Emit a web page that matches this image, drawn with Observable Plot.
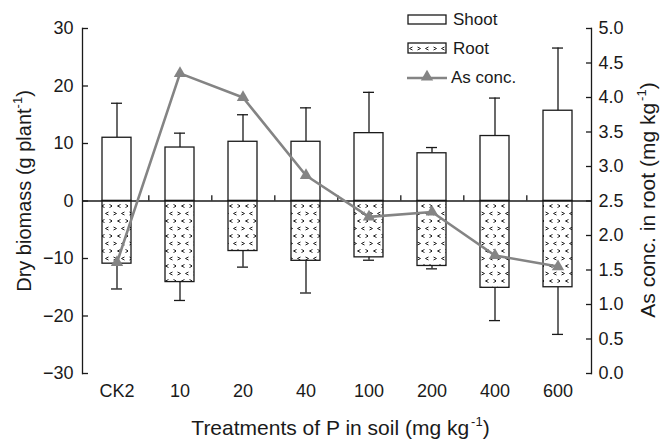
<!DOCTYPE html>
<html>
<head>
<meta charset="utf-8">
<script src="https://cdn.jsdelivr.net/npm/d3@7"></script>
<script src="https://cdn.jsdelivr.net/npm/@observablehq/plot@0.6"></script>
<style>
  html, body { margin: 0; padding: 0; background: #fff; }
  #chart { width: 666px; height: 441px; }
</style>
</head>
<body>
<div id="chart"></div>
<script>
// ---- data ----
const categories = ["CK2", "10", "20", "40", "100", "200", "400", "600"];
const shoot      = [11.0, 9.3, 10.3, 10.3, 11.8, 8.3, 11.3, 15.7];
const shootErr   = [6.0, 2.5, 4.7, 5.9, 7.1, 1.0, 6.6, 10.9];
const root       = [-10.9, -14.1, -8.7, -10.4, -9.8, -11.3, -15.1, -15.0];
const rootErr    = [4.4, 3.2, 2.8, 5.6, 0.5, 0.5, 5.7, 8.2];
const asConc     = [1.61, 4.35, 4.00, 2.87, 2.27, 2.34, 1.71, 1.55];
const leftTicks  = [-30, -20, -10, 0, 10, 20, 30];
const rightTicks = [0.0, 0.5, 1.0, 1.5, 2.0, 2.5, 3.0, 3.5, 4.0, 4.5, 5.0];

// ---- layout ----
const W = 666, H = 441;
const mL = 82, mR = 75, mT = 28, mB = 68;
const ink = "#1a1a1a";
const gray = "#848484";
const font = "'Liberation Sans', Arial, Helvetica, sans-serif";

// right axis (0..5) mapped onto left axis (-30..30)
const toLeft = v => (v - 2.5) * 12;
const toRight = y => y / 12 + 2.5;

const data = categories.map((c, i) => ({
  cat: c, shoot: shoot[i], shootErr: shootErr[i],
  root: root[i], rootErr: rootErr[i], as: asConc[i]
}));

const step = (W - mL - mR) / categories.length;

const plot = Plot.plot({
  width: W, height: H,
  marginLeft: mL, marginRight: mR, marginTop: mT, marginBottom: mB,
  style: { fontFamily: font, fontSize: "18px", color: ink, background: "#fff", overflow: "visible" },
  x: { domain: categories, paddingInner: 0.54, paddingOuter: 0.27, label: null },
  y: { domain: [-30, 30], label: null },
  marks: [
    // error bars shoot
    Plot.ruleX(data, { x: "cat", y1: "shoot", y2: d => d.shoot + d.shootErr, stroke: ink, strokeWidth: 1.3 }),
    Plot.tickY(data, { x: "cat", y: d => d.shoot + d.shootErr, stroke: ink, strokeWidth: 1.3, insetLeft: 9, insetRight: 9 }),
    // error bars root
    Plot.ruleX(data, { x: "cat", y1: "root", y2: d => d.root - d.rootErr, stroke: ink, strokeWidth: 1.3 }),
    Plot.tickY(data, { x: "cat", y: d => d.root - d.rootErr, stroke: ink, strokeWidth: 1.3, insetLeft: 9, insetRight: 9 }),
    // bars
    Plot.barY(data, { x: "cat", y1: 0, y2: "shoot", fill: "#fff", stroke: ink, strokeWidth: 1.3 }),
    Plot.barY(data, { x: "cat", y1: 0, y2: "root", fill: "url(#rootPattern)", stroke: ink, strokeWidth: 1.3 }),
    // zero line and category separators
    Plot.ruleY([0], { stroke: ink, strokeWidth: 1.3 }),
    Plot.ruleX(categories.slice(0, -1), { x: d => d, y1: 0, y2: 0.9, dx: step / 2, stroke: ink, strokeWidth: 1.3 }),
    // axis lines
    Plot.frame({ anchor: "left", stroke: ink, strokeWidth: 1.3 }),
    Plot.frame({ anchor: "right", stroke: ink, strokeWidth: 1.3 }),
    // left axis
    Plot.axisY({ ticks: leftTicks, anchor: "left", tickSize: 0, tickPadding: 9, label: null, fontSize: 18 }),
    Plot.axisY({ ticks: leftTicks, anchor: "left", tickSize: 6, dx: 6, tickFormat: () => "", label: null, stroke: ink, strokeWidth: 1.3 }),
    // right axis
    Plot.axisY({ ticks: rightTicks.map(toLeft), anchor: "right", tickSize: 0, tickPadding: 7, tickFormat: y => toRight(y).toFixed(1), label: null, fontSize: 18 }),
    Plot.axisY({ ticks: rightTicks.map(toLeft), anchor: "right", tickSize: 6, dx: -6, tickFormat: () => "", label: null, stroke: ink, strokeWidth: 1.3 }),
    // bottom axis labels
    Plot.axisX({ anchor: "bottom", tickSize: 0, tickPadding: 11, label: null, fontSize: 18 }),
    // As concentration line
    Plot.line(data, { x: "cat", y: d => toLeft(d.as), stroke: gray, strokeWidth: 2.6 }),
    Plot.dot(data, { x: "cat", y: d => toLeft(d.as), symbol: "triangle", r: 4.6, fill: gray, stroke: "none" })
  ]
});

document.getElementById("chart").appendChild(plot);

// ---- pattern for root bars ----
const svg = d3.select(plot);
const defs = svg.insert("defs", ":first-child");
const pat = defs.append("pattern")
  .attr("id", "rootPattern").attr("patternUnits", "userSpaceOnUse")
  .attr("width", 16).attr("height", 15);
pat.append("rect").attr("width", 16).attr("height", 15).attr("fill", "#fff");
const chev = (x, y, dir) => {
  const s = 1.5;
  const d = dir === ">"
    ? `M${x - s},${y - s}L${x + s},${y}L${x - s},${y + s}`
    : `M${x + s},${y - s}L${x - s},${y}L${x + s},${y + s}`;
  pat.append("path").attr("d", d).attr("fill", "none").attr("stroke", "#222").attr("stroke-width", 1);
};
chev(3, 3.5, ">"); chev(11, 3.5, "<");
chev(7, 11, "<"); chev(15, 11, ">");

// ---- axis titles ----
const bottomTitle = svg.append("text")
  .attr("x", (mL + W - mR) / 2 + 4).attr("y", 435)
  .attr("text-anchor", "middle")
  .attr("font-family", font).attr("font-size", 21).attr("fill", ink);
bottomTitle.append("tspan").text("Treatments of P in soil (mg kg");
bottomTitle.append("tspan").attr("font-size", 13).attr("dy", -9).attr("dx", 2).text("-1");
bottomTitle.append("tspan").attr("dy", 9).text(")");

const leftTitle = svg.append("text")
  .attr("transform", `translate(31,191) rotate(-90)`)
  .attr("text-anchor", "middle")
  .attr("font-family", font).attr("font-size", 20).attr("fill", ink);
leftTitle.append("tspan").text("Dry biomass (g plant");
leftTitle.append("tspan").attr("font-size", 13).attr("dy", -9).text("-1");
leftTitle.append("tspan").attr("dy", 9).text(")");

const rightTitle = svg.append("text")
  .attr("transform", `translate(655,200) rotate(-90)`)
  .attr("text-anchor", "middle")
  .attr("font-family", font).attr("font-size", 21).attr("fill", ink);
rightTitle.append("tspan").text("As conc. in root (mg kg");
rightTitle.append("tspan").attr("font-size", 13).attr("dy", -9).attr("dx", 2).text("-1");
rightTitle.append("tspan").attr("dy", 9).text(")");

// ---- legend ----
const lg = svg.append("g").attr("font-family", font).attr("font-size", 17).attr("fill", ink);
const lx = 408, lw = 38;
lg.append("rect").attr("x", lx).attr("y", 15).attr("width", lw).attr("height", 9)
  .attr("fill", "#fff").attr("stroke", ink).attr("stroke-width", 1.3);
lg.append("text").attr("text-anchor", "start").attr("x", lx + lw + 7).attr("y", 25).text("Shoot");
lg.append("rect").attr("x", lx).attr("y", 43).attr("width", lw).attr("height", 10)
  .attr("fill", "url(#rootPattern)").attr("stroke", ink).attr("stroke-width", 1.3);
lg.append("text").attr("text-anchor", "start").attr("x", lx + lw + 7).attr("y", 54).text("Root");
lg.append("line").attr("x1", lx - 1).attr("x2", lx + lw + 1).attr("y1", 78).attr("y2", 78)
  .attr("stroke", gray).attr("stroke-width", 2.6);
lg.append("path").attr("d", d3.symbol(d3.symbolTriangle, Math.PI * 4.6 * 4.6)())
  .attr("transform", `translate(${lx + lw / 2},77)`).attr("fill", gray);
lg.append("text").attr("text-anchor", "start").attr("x", lx + lw + 5).attr("y", 83).text("As conc.");
</script>
</body>
</html>
